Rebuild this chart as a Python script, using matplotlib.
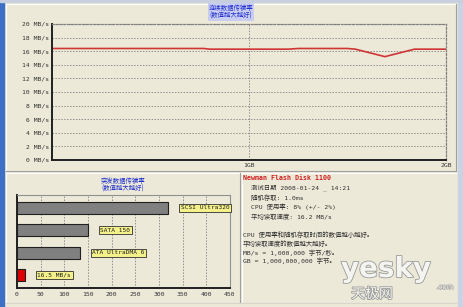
from matplotlib import pyplot as plt
from matplotlib import patheffects as pe
from matplotlib.patches import Rectangle
from matplotlib.lines import Line2D


# --------------------------------------------------------------------------------------------------------------------
# data...

line_gb = [0.0, 0.77, 0.80, 1.20, 1.25, 1.50, 1.54, 1.69, 1.84, 2.0]
line_mbs = [16.4, 16.4, 16.3, 16.3, 16.4, 16.4, 16.3, 15.2, 16.3, 16.3]

y_ticks = [0, 2, 4, 6, 8, 10, 12, 14, 16, 18, 20]
x_ticks_gb = [1, 2]

burst_labels = ['SCSI Ultra320', 'SATA 150', 'ATA UltraDMA 6', '16.5 MB/s']
burst_values = [320, 150, 133, 16.5]
burst_colors = ['#808080', '#808080', '#808080', '#e00000']

info_title = 'Newman Flash Disk 1100'
info_lines = ['测试日期 2008-01-24 _ 14:21', '随机存取: 1.0ms', 'CPU 使用率: 8% (+/- 2%)', '平均读取速度: 16.2 MB/s']
note_lines = ['CPU 使用率和随机存取时间的数值越小越好。', '平均读取速度的数值越大越好。',
              'MB/s = 1,000,000 字节/秒。', 'GB = 1,000,000,000 字节。']


# --------------------------------------------------------------------------------------------------------------------

W, H = 464, 307
BG = '#ece9d8'
MONO = ['DejaVu Sans Mono', 'Noto Sans CJK SC']
CJK = ['Noto Sans CJK SC', 'DejaVu Sans']


def box(x0, y0, x1, y1):
    # pixel box (top-left origin) -> figure fraction
    return [x0 / W, 1 - y1 / H, (x1 - x0) / W, (y1 - y0) / H]


def fx(x):
    return x / W


def fy(y):
    return 1 - y / H


fig = plt.figure(figsize=(W / 100, H / 100), dpi=100)
fig.patch.set_facecolor(BG)

# window chrome...
fig.patches.append(Rectangle((0, 0), fx(4), 1, transform=fig.transFigure, color='#3d6fc4', zorder=0))
fig.patches.append(Rectangle((fx(458), 0), 1, 1, transform=fig.transFigure, color='#c9d3e6', zorder=0))
fig.patches.append(Rectangle((0, fy(2)), 1, 1, transform=fig.transFigure, color='#c8d0e0', zorder=0))

for (xs, ys, c) in [([6, 456], [4, 4], 'white'), ([6, 6], [4, 170], 'white'),
                    ([6, 456], [171, 171], '#a0a0a0'), ([456, 456], [4, 171], '#a0a0a0'),
                    ([6, 456], [173, 173], 'white'), ([6, 6], [173, 303], 'white'),
                    ([240, 240], [173, 303], '#a0a0a0'), ([242, 242], [173, 303], 'white'),
                    ([6, 456], [303, 303], '#d8d6cc')]:
    fig.add_artist(Line2D([fx(v) for v in xs], [fy(v) for v in ys], color=c, lw=0.8))


# top: sequential transfer rate...
ax = fig.add_axes(box(52, 24, 446, 160))
ax.set_facecolor(BG)
ax.plot(line_gb, line_mbs, color='#d03535', lw=1.2)
ax.set_xlim(0, 2)
ax.set_ylim(0, 20)
ax.set_yticks(y_ticks)
ax.set_yticklabels(['%d MB/s' % v for v in y_ticks], family=MONO, fontsize=4.6, color='#333333')
ax.set_xticks(x_ticks_gb)
ax.set_xticklabels(['%dGB' % v for v in x_ticks_gb], family=MONO, fontsize=4.6, color='#333333')
ax.tick_params(length=0, pad=2)
ax.grid(True, color='#909090', ls=(0, (1.5, 1.5)), lw=0.7)

for side in ['left', 'bottom']:
    ax.spines[side].set_color('#202020')
    ax.spines[side].set_linewidth(1.4)

for side in ['top', 'right']:
    ax.spines[side].set_color('#808080')
    ax.spines[side].set_linestyle((0, (1.5, 1.5)))
    ax.spines[side].set_linewidth(0.9)

fig.text(fx(231), fy(12), '连续数据传输率\n(数值越大越好)', family=CJK, fontsize=4.6, color='#1f2fd0',
         ha='center', va='center', linespacing=1.0,
         bbox=dict(boxstyle='square,pad=0.1', fc='#c9cdf2', ec='none'))


# bottom left: burst transfer rate...
bx = fig.add_axes(box(17, 195, 230, 288))
bx.set_facecolor(BG)
pos = list(range(len(burst_values)))[::-1]
bx.barh(pos, burst_values, height=0.55, color=burst_colors, edgecolor='#202020', lw=0.8, zorder=3)
bx.set_xlim(0, 450)
bx.set_ylim(-0.57, 3.57)
bx.set_xticks(range(0, 451, 50))
bx.set_xticklabels([str(v) for v in range(0, 451, 50)], family=MONO, fontsize=4.6, color='#333333')
bx.set_yticks([])
bx.tick_params(length=0, pad=3)
bx.xaxis.grid(True, color='#909090', ls=(0, (1.5, 1.5)), lw=0.7)

for side in ['left', 'bottom']:
    bx.spines[side].set_color('#202020')
    bx.spines[side].set_linewidth(1.4)

for side in ['top', 'right']:
    bx.spines[side].set_color('#909090')
    bx.spines[side].set_linewidth(0.8)

for p, v, lab in zip(pos, burst_values, burst_labels):
    bx.annotate(lab, (v, p), xytext=(9, 0), textcoords='offset points', va='center', ha='left',
                family=MONO, fontsize=4.4, color='#202020', zorder=4,
                bbox=dict(boxstyle='square,pad=0.25', fc='#f4f08a', ec='#303030', lw=0.6))

fig.text(fx(123), fy(185), '突发数据传输率\n(数值越大越好)', family=CJK, fontsize=4.6, color='#1f2fd0',
         ha='center', va='center', linespacing=1.0)


# bottom right: info...
fig.text(fx(243), fy(178), info_title, family='DejaVu Sans Mono', fontsize=4.8, fontweight='bold',
         color='#d02020', va='center')

for i, line in enumerate(info_lines):
    fig.text(fx(251), fy(188 + 9.6 * i), line, family=MONO, fontsize=4.6, color='#303030', va='center')

for i, line in enumerate(note_lines):
    fig.text(fx(243), fy(235 + 8.7 * i), line, family=MONO, fontsize=4.6, color='#303030', va='center')

# watermark...
halo = [pe.withStroke(linewidth=1.2, foreground='#9a9a9a')]
fig.text(fx(386), fy(269), 'yesky', family='DejaVu Sans', fontsize=20, fontweight='bold', color='#f4f4f0',
         ha='center', va='center', path_effects=halo)
fig.text(fx(372), fy(294), '天极网', family=CJK, fontsize=10, color='#f4f4f0', ha='center', va='center',
         path_effects=halo)
fig.text(fx(445), fy(287), '.com', family='DejaVu Sans', fontsize=5, color='#f4f4f0', ha='center', va='center',
         path_effects=[pe.withStroke(linewidth=0.8, foreground='#9a9a9a')])

fig.savefig('out.png', dpi=100, facecolor=BG)
